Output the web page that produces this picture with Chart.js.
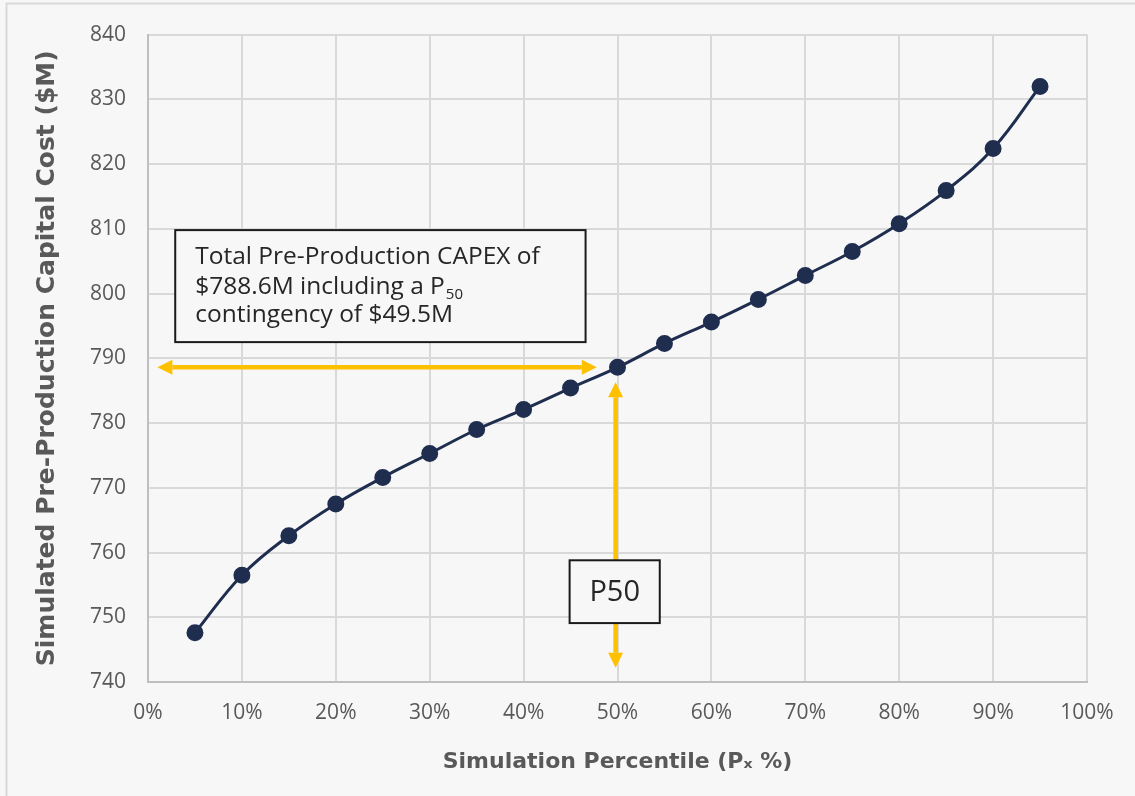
<!DOCTYPE html>
<html>
<head>
<meta charset="utf-8">
<script src="https://cdn.jsdelivr.net/npm/chart.js@4"></script>
<style>
  body { margin: 0; background: #f7f7f7; }
  #wrap { width: 1135px; height: 796px; position: relative; }
</style>
</head>
<body>
<div id="wrap"><canvas id="chart"></canvas></div>
<script>
const percentiles = [5, 10, 15, 20, 25, 30, 35, 40, 45, 50, 55, 60, 65, 70, 75, 80, 85, 90, 95];
const costs = [747.6, 756.5, 762.6, 767.5, 771.6, 775.3, 779.0, 782.1, 785.4, 788.6, 792.3, 795.6, 799.1, 802.8, 806.5, 810.8, 815.9, 822.4, 832.0];
const xTicks = [0, 10, 20, 30, 40, 50, 60, 70, 80, 90, 100];
const yTicks = [740, 750, 760, 770, 780, 790, 800, 810, 820, 830, 840];
const p50Value = 788.6;

const FONT = '"Open Sans", Lato, sans-serif';
const TITLE_FONT = '"DejaVu Sans", "Open Sans", sans-serif';
const gold = '#ffc000';

const background = {
  id: 'background',
  beforeDraw(chart) {
    const ctx = chart.ctx;
    ctx.save();
    ctx.fillStyle = '#f7f7f7';
    ctx.fillRect(0, 0, chart.width, chart.height);
    ctx.strokeStyle = '#d9d9d9';
    ctx.lineWidth = 2;
    ctx.beginPath();
    ctx.moveTo(6.5, chart.height);
    ctx.lineTo(6.5, 3.5);
    ctx.lineTo(chart.width, 3.5);
    ctx.stroke();
    ctx.restore();
  }
};

function arrow(ctx, x1, y1, x2, y2) {
  const head = 15, half = 7.5;
  const ang = Math.atan2(y2 - y1, x2 - x1);
  const cos = Math.cos(ang), sin = Math.sin(ang);
  ctx.strokeStyle = gold;
  ctx.fillStyle = gold;
  ctx.lineWidth = 4.5;
  ctx.beginPath();
  ctx.moveTo(x1 + cos * head, y1 + sin * head);
  ctx.lineTo(x2 - cos * head, y2 - sin * head);
  ctx.stroke();
  [[x1, y1, -1], [x2, y2, 1]].forEach(([x, y, d]) => {
    ctx.beginPath();
    ctx.moveTo(x, y);
    ctx.lineTo(x - d * cos * head - sin * half, y - d * sin * head + cos * half);
    ctx.lineTo(x - d * cos * head + sin * half, y - d * sin * head - cos * half);
    ctx.closePath();
    ctx.fill();
  });
}

function box(ctx, x1, y1, x2, y2) {
  ctx.fillStyle = '#f7f7f7';
  ctx.fillRect(x1, y1, x2 - x1, y2 - y1);
  ctx.strokeStyle = '#1a1a1a';
  ctx.lineWidth = 2;
  ctx.strokeRect(x1, y1, x2 - x1, y2 - y1);
}

const annotations = {
  id: 'annotations',
  afterDatasetsDraw(chart) {
    const ctx = chart.ctx;
    const xs = chart.scales.x, ys = chart.scales.y;
    ctx.save();
    // horizontal arrow at the P50 cost
    arrow(ctx, xs.getPixelForValue(1.0), ys.getPixelForValue(p50Value),
               xs.getPixelForValue(47.8), ys.getPixelForValue(p50Value));
    // vertical arrow at 50%
    arrow(ctx, xs.getPixelForValue(49.8), ys.getPixelForValue(742.2),
               xs.getPixelForValue(49.8), ys.getPixelForValue(786.3));

    // text box
    const bx1 = xs.getPixelForValue(2.9), bx2 = xs.getPixelForValue(46.6);
    const by1 = ys.getPixelForValue(809.8), by2 = ys.getPixelForValue(792.5);
    box(ctx, bx1, by1, bx2, by2);
    ctx.fillStyle = '#262626';
    ctx.textBaseline = 'alphabetic';
    ctx.textAlign = 'left';
    const big = '24.5px ' + FONT;
    ctx.font = big;
    const tx = bx1 + 20;
    ctx.fillText('Total Pre-Production CAPEX of', tx, by1 + 34);
    const l2 = '$788.6M including a P';
    ctx.fillText(l2, tx, by1 + 64);
    const w2 = ctx.measureText(l2).width;
    ctx.font = '15px ' + FONT;
    ctx.fillText('50', tx + w2 + 1, by1 + 69);
    ctx.font = big;
    ctx.fillText('contingency of $49.5M', tx, by1 + 92);

    // P50 box
    const px1 = xs.getPixelForValue(44.9), px2 = xs.getPixelForValue(54.5);
    const py1 = ys.getPixelForValue(758.8), py2 = ys.getPixelForValue(749.1);
    box(ctx, px1, py1, px2, py2);
    ctx.fillStyle = '#262626';
    ctx.textAlign = 'center';
    ctx.font = '29px ' + FONT;
    ctx.fillText('P50', (px1 + px2) / 2, py1 + 41);
    ctx.restore();
  }
};

new Chart(document.getElementById('chart'), {
  type: 'line',
  data: {
    datasets: [{
      data: percentiles.map((p, i) => ({ x: p, y: costs[i] })),
      borderColor: '#1f2d4f',
      backgroundColor: '#1f2d4f',
      borderWidth: 3,
      pointRadius: 7,
      pointHoverRadius: 7,
      tension: 0.4
    }]
  },
  options: {
    responsive: true,
    maintainAspectRatio: false,
    devicePixelRatio: 1,
    animation: false,
    layout: { padding: { left: 0, top: 34, right: 48, bottom: 0 } },
    plugins: { legend: { display: false }, tooltip: { enabled: false } },
    scales: {
      x: {
        type: 'linear',
        min: 0,
        max: 100,
        afterBuildTicks: (s) => { s.ticks = xTicks.map(v => ({ value: v })); },
        afterFit: (s) => { s.height = 114; },
        ticks: {
          color: '#595959',
          font: { family: FONT, size: 21 },
          padding: 18,
          callback: (v) => v + '%'
        },
        grid: { color: '#d9d9d9', lineWidth: 2, drawTicks: false },
        border: { color: '#bfbfbf', width: 2 },
        title: {
          display: true,
          text: 'Simulation Percentile (Pₓ %)',
          color: '#595959',
          font: { family: TITLE_FONT, size: 22, weight: 'bold' },
          padding: { top: 0, bottom: 21 }
        }
      },
      y: {
        min: 740,
        max: 840,
        afterBuildTicks: (s) => { s.ticks = yTicks.map(v => ({ value: v })); },
        afterFit: (s) => { s.width = 148; },
        ticks: {
          color: '#595959',
          font: { family: FONT, size: 21 },
          padding: 22
        },
        grid: { color: '#d9d9d9', lineWidth: 2, drawTicks: false },
        border: { color: '#bfbfbf', width: 2 },
        title: {
          display: true,
          text: 'Simulated Pre-Production Capital Cost ($M)',
          color: '#595959',
          font: { family: TITLE_FONT, size: 25, weight: 'bold' },
          padding: { top: 32, bottom: 0 }
        }
      }
    }
  },
  plugins: [background, annotations]
});
</script>
</body>
</html>
